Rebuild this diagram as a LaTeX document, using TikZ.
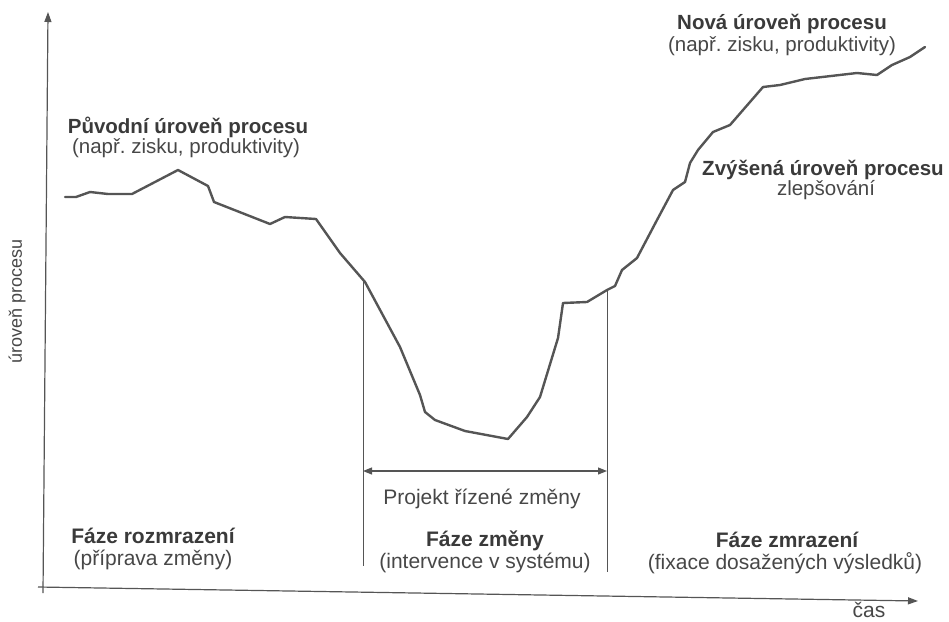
\documentclass[tikz,border=0pt]{standalone}
\usepackage{fontspec}
\setmainfont{Liberation Sans}
\usetikzlibrary{arrows.meta}
\frenchspacing
\definecolor{ink}{HTML}{3A3A3A}
\definecolor{softink}{HTML}{474747}
\definecolor{linegray}{HTML}{555555}
\tikzset{
  axis/.style={draw=linegray, line width=1.2pt, -{Triangle[length=10pt,width=7pt]}},
  curve/.style={draw=linegray, line width=2.4pt, line join=round, line cap=round},
  divider/.style={draw=linegray, line width=1pt},
  span/.style={draw=linegray, line width=1.1pt, {Triangle[length=9pt,width=7pt]}-{Triangle[length=9pt,width=7pt]}},
  headline/.style={text=ink, font=\fontsize{20.5}{22}\selectfont\bfseries, inner sep=0pt},
  subline/.style={text=softink, font=\fontsize{20.5}{22}\selectfont, inner sep=0pt},
  phasehead/.style={text=ink, font=\fontsize{21}{23}\selectfont\bfseries, inner sep=0pt, anchor=base},
  phasesub/.style={text=softink, font=\fontsize{21}{23}\selectfont, inner sep=0pt, anchor=base},
}
\begin{document}
\begin{tikzpicture}[x=1pt,y=-1pt]
\useasboundingbox (0,0) rectangle (949,621);

% axes
\coordinate (yfoot) at (43,593);
\coordinate (ytop) at (48,12);
\coordinate (xfoot) at (38,587);
\coordinate (xend) at (918,601);
\draw[axis] (yfoot) -- (ytop);
\draw[axis] (xfoot) -- (xend);

% process level over time
\coordinate (c1) at (365,282);
\coordinate (c2) at (607,290);
\draw[curve] (65,197) -- (76,197) -- (90,192) -- (108,194) -- (132,194)
  -- (178,170) -- (208,186) -- (214,202) -- (270,224) -- (285,217)
  -- (316,219) -- (340,253) -- (c1) -- (400,347) -- (420,395)
  -- (425,412) -- (435,420) -- (465,431) -- (508,439) -- (527,417)
  -- (540,397) -- (558,338) -- (563,303) -- (587,302) -- (c2)
  -- (615,286) -- (622,270) -- (637,258) -- (657,220) -- (673,190)
  -- (685,182) -- (690,163) -- (698,150) -- (713,132) -- (730,125)
  -- (763,87) -- (780,85) -- (805,79) -- (857,73) -- (877,75)
  -- (892,65) -- (910,57) -- (925,47);

% change-project interval
\coordinate (d1) at (363,566);
\coordinate (d2) at (607,572);
\draw[divider] (363,282) -- (d1);
\draw[divider] (c2) -- (d2);
\coordinate (s1) at (363,471);
\coordinate (s2) at (607,471);
\draw[span] (s1) -- (s2);
\node[phasesub] (proj) at (482,504) {Projekt řízené změny};

% level labels
\node[headline] (orig) at (188,127) {Původní úroveň procesu};
\node[subline] (origsub) at (186,148) {(např. zisku, produktivity)};
\node[headline] (new) at (782,24) {Nová úroveň procesu};
\node[subline] (newsub) at (782,46) {(např. zisku, produktivity)};
\node[headline] (up) at (823,170) {Zvýšená úroveň procesu};
\node[subline] (upsub) at (826,190) {zlepšování};
\node[subline, font=\fontsize{18}{20}\selectfont, rotate=90] (ylab) at (17,301) {úroveň procesu};

% phases
\node[phasehead] (p1) at (153,543) {Fáze rozmrazení};
\node[phasesub] (p1s) at (153,565) {(příprava změny)};
\node[phasehead] (p2) at (485,546) {Fáze změny};
\node[phasesub] (p2s) at (485,568) {(intervence v systému)};
\node[phasehead] (p3) at (787,547) {Fáze zmrazení};
\node[phasesub] (p3s) at (785,569) {(fixace dosažených výsledků)};
\node[phasesub] (time) at (869,617) {čas};
\end{tikzpicture}
\end{document}
